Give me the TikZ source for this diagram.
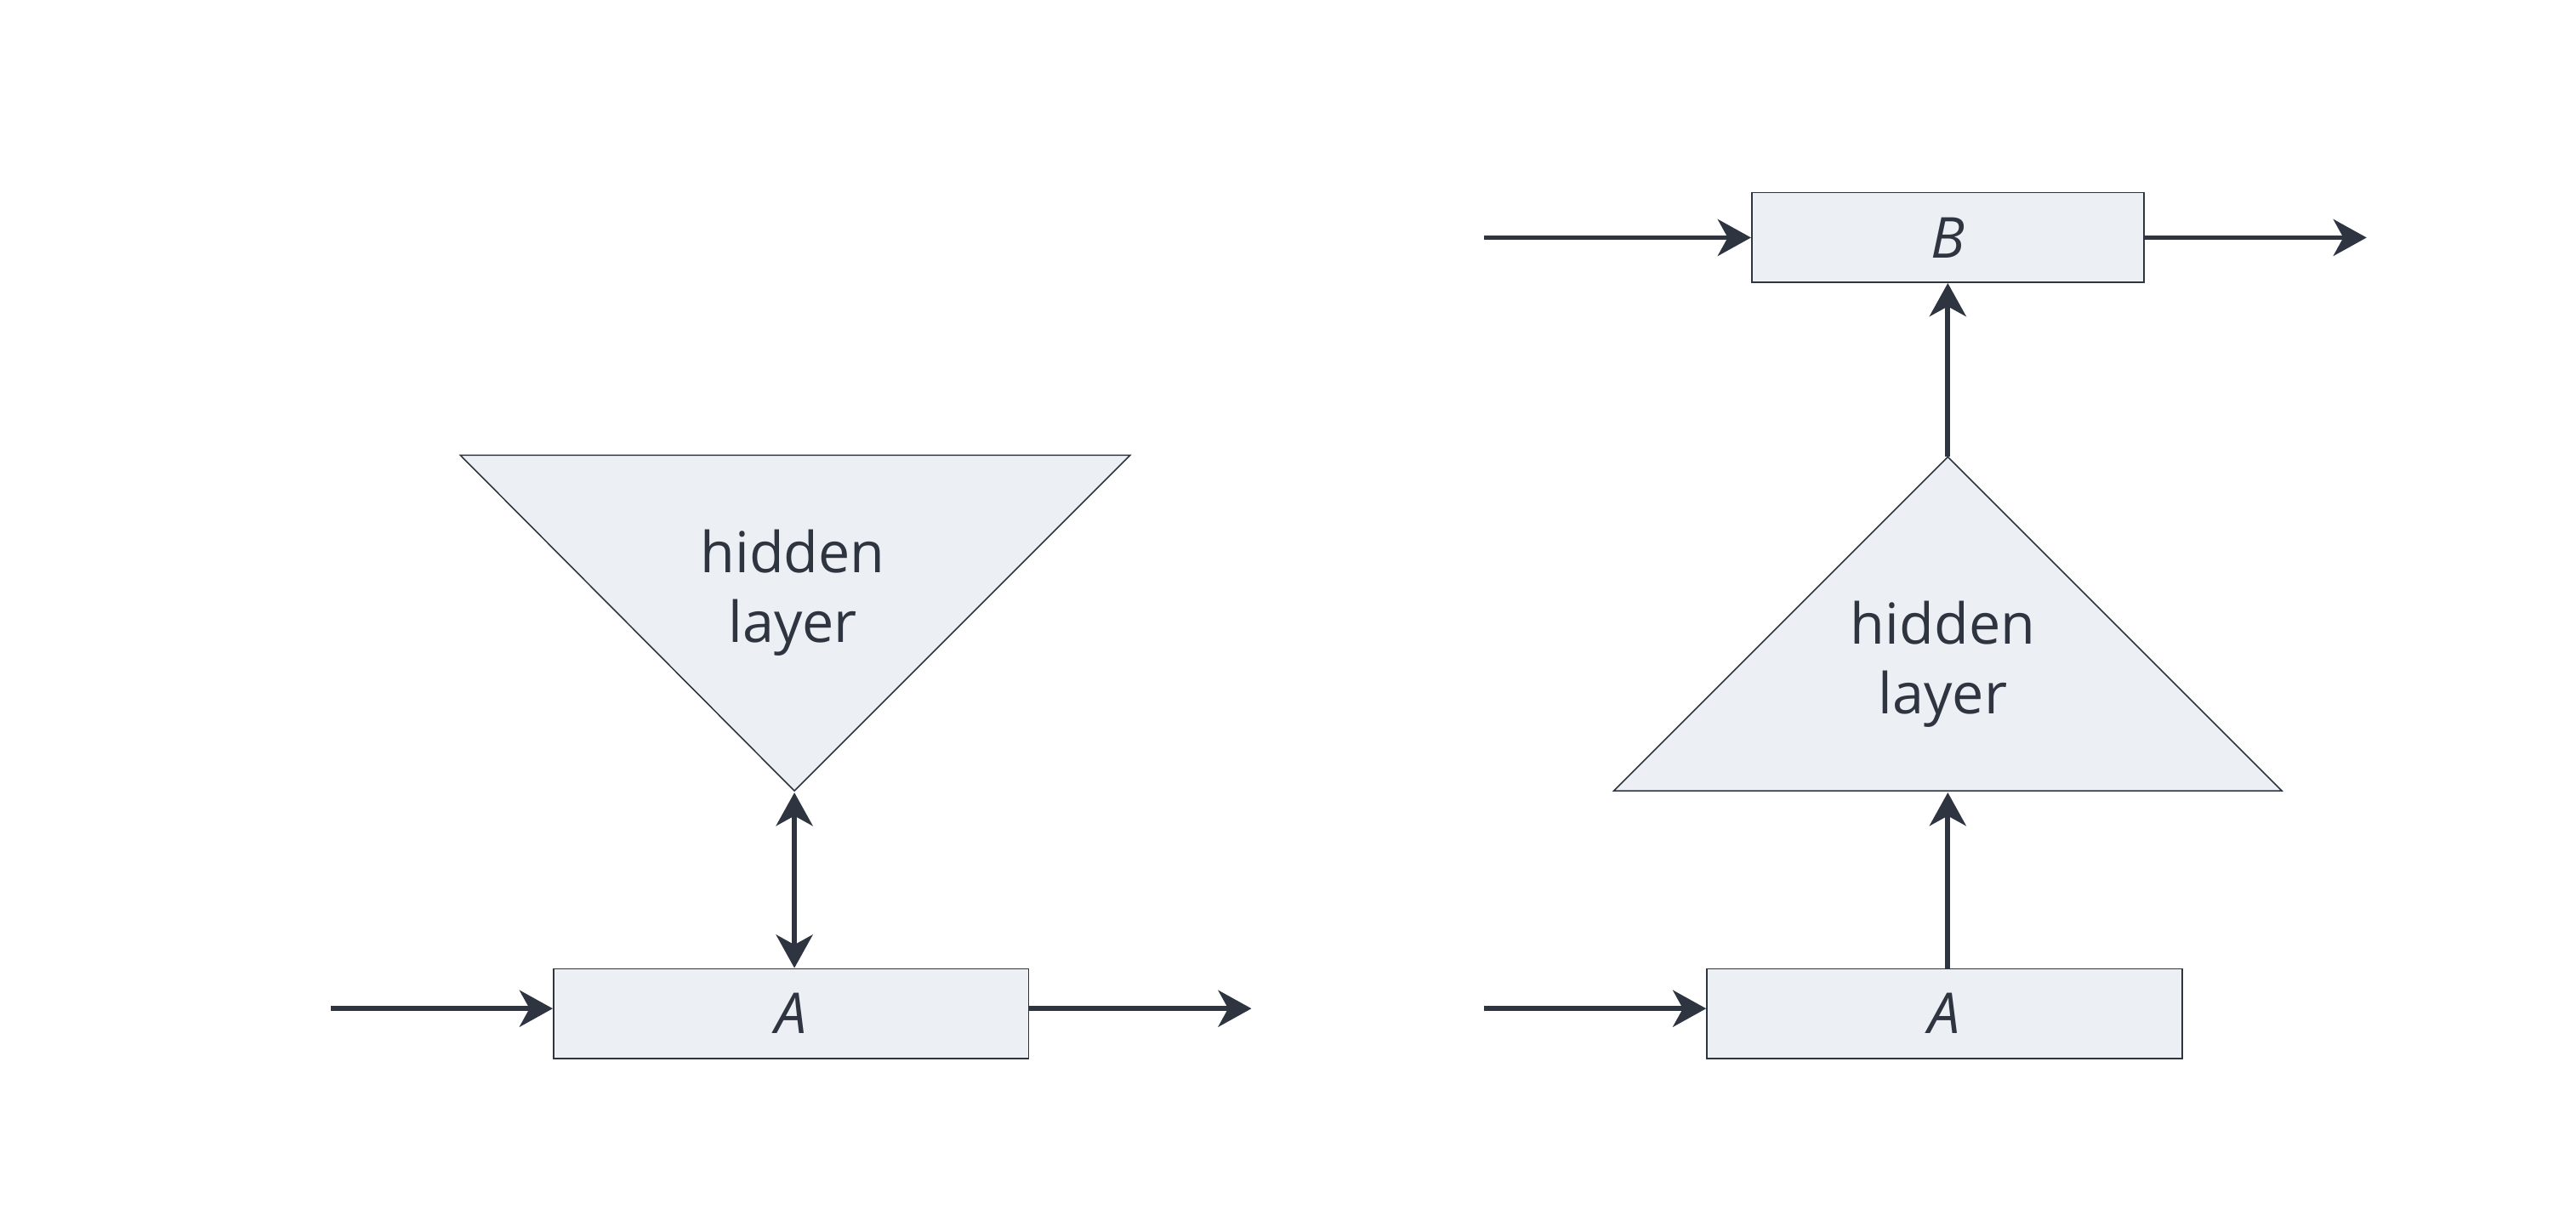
\documentclass[tikz,border=0pt]{standalone}
\usepackage{fontspec}
\setmainfont{Open Sans}
\usetikzlibrary{arrows.meta,positioning}
\definecolor{ink}{HTML}{2E3440}
\definecolor{pale}{HTML}{ECEFF4}
\tikzset{
    box/.style={draw=ink, fill=pale, line width=0.8pt, minimum width=286pt, minimum height=54pt, inner sep=0pt, text=ink, font=\fontsize{34}{40}\selectfont\itshape},
    tri/.style={draw=ink, fill=pale, line width=0.8pt},
    lbl/.style={text=ink, align=center, font=\fontsize{34}{42}\selectfont},
    flow/.style={draw=ink, line width=3pt, -{Stealth[inset=6pt, length=20pt, width=22pt]}},
    both/.style={flow, {Stealth[inset=6pt, length=20pt, width=22pt]}-{Stealth[inset=6pt, length=20pt, width=22pt]}}
}
\begin{document}
\begin{tikzpicture}[x=1pt, y=-1pt]
    \useasboundingbox (0,0) rectangle (1550,741);
    % left: shared hidden layer
    \draw[tri] (277,274) -- (680,274) -- (478,476) -- cycle;
    \coordinate (tipL) at (478,477);
    \node[lbl] (hidL) at (477,357) {hidden\\layer};
    \node[box] (aL) at (476,610) {A};
    \coordinate (inL) at (199,607);
    \coordinate (outL) at (753,607);
    \draw[flow] (inL) -- (inL -| aL.west);
    \draw[flow] (aL.east |- outL) -- (outL);
    \draw[both] (tipL) -- (tipL |- aL.north);
    % right: stacked
    \node[box, minimum width=236pt] (bR) at (1172,143) {B};
    \draw[tri] (1172,275) -- (1373,476) -- (971,476) -- cycle;
    \coordinate (topR) at (1172,275);
    \coordinate (baseR) at (1172,477);
    \node[lbl] (hidR) at (1169,400) {hidden\\layer};
    \node[box] (aR) at (1170,610) {A};
    \coordinate (inA) at (893,607);
    \coordinate (inB) at (893,143);
    \coordinate (outB) at (1424,143);
    \draw[flow] (inA) -- (inA -| aR.west);
    \draw[flow] (inB) -- (bR.west);
    \draw[flow] (bR.east) -- (outB);
    \draw[flow] (aR.north -| baseR) -- (baseR);
    \draw[flow] (topR) -- (topR |- bR.south);
\end{tikzpicture}
\end{document}
